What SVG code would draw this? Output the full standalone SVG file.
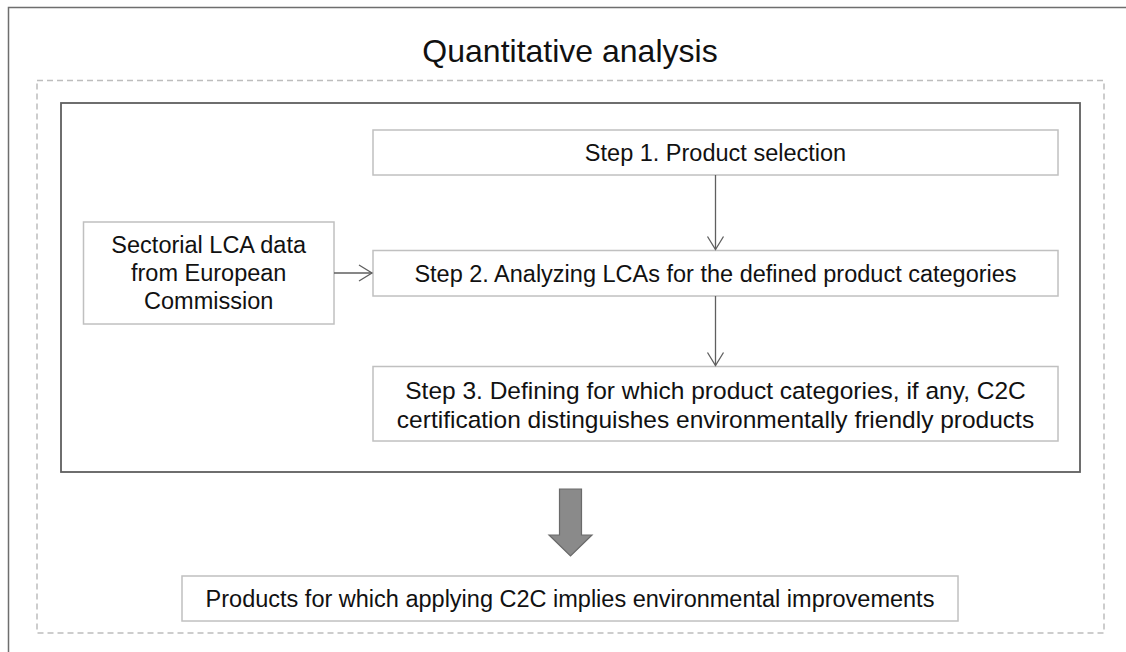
<svg xmlns="http://www.w3.org/2000/svg" width="1126" height="652" viewBox="0 0 1126 652">
<defs>
<style>
.frame{fill:none;stroke:#6e6e6e;stroke-width:1.5}
.dash{fill:none;stroke:#bdbdbd;stroke-width:1.5;stroke-dasharray:6 4}
.inner{fill:none;stroke:#5f5f5f;stroke-width:1.8}
.box{fill:#ffffff;stroke:#c0c0c0;stroke-width:1.5}
.t{font-family:"Liberation Sans",Arial,sans-serif;font-size:23.5px;fill:#111;text-anchor:middle;dominant-baseline:central}
.t3{font-size:24.5px}
.title{font-family:"Liberation Sans",Arial,sans-serif;font-size:32px;fill:#111;text-anchor:middle}
.conn{fill:none;stroke:#5f5f5f;stroke-width:1.3}
</style>
<marker id="chev" markerWidth="16" markerHeight="20" refX="14" refY="10" orient="auto" markerUnits="userSpaceOnUse">
<path d="M1,2 L14,10 L1,18" fill="none" stroke="#5f5f5f" stroke-width="1.3"/>
</marker>
</defs>
<rect width="1126" height="652" fill="#ffffff"/>
<path class="frame" d="M8.5,652 L8.5,7.5 L1126,7.5"/>
<text class="title" x="570" y="62">Quantitative analysis</text>
<rect id="dashed-region" class="dash" x="37" y="80.5" width="1067" height="552.5"/>
<rect id="analysis-box" class="inner" x="61" y="103" width="1019" height="369"/>
<g id="step1">
<rect class="box" x="373" y="130" width="685" height="45"/>
<text class="t" x="715.5" y="152.5">Step 1. Product selection</text>
</g>
<g id="step2">
<rect class="box" x="373" y="250.5" width="685" height="45.5"/>
<text class="t" x="715.5" y="273.5">Step 2. Analyzing LCAs for the defined product categories</text>
</g>
<g id="step3">
<rect class="box" x="373" y="366.5" width="685" height="74.5"/>
<text class="t t3" x="715.5" y="390.5">Step 3. Defining for which product categories, if any, C2C</text>
<text class="t t3" x="715.5" y="419">certification distinguishes  environmentally friendly products</text>
</g>
<g id="sectorial">
<rect class="box" x="83.5" y="222" width="250.5" height="102"/>
<text class="t" x="208.7" y="245">Sectorial LCA data</text>
<text class="t" x="208.7" y="273">from European</text>
<text class="t" x="208.7" y="301">Commission</text>
</g>
<g id="result">
<rect class="box" x="182" y="576" width="776" height="45"/>
<text class="t" x="570" y="598.5">Products for which applying C2C implies environmental improvements</text>
</g>
<g id="connectors">
<line class="conn" x1="715.5" y1="175" x2="715.5" y2="249.5" marker-end="url(#chev)"/>
<line class="conn" x1="715.5" y1="296" x2="715.5" y2="365.5" marker-end="url(#chev)"/>
<line class="conn" x1="334" y1="273" x2="372" y2="273" marker-end="url(#chev)"/>
<path d="M559.5,489 L581.5,489 L581.5,535 L592,535 L570.5,556 L549,535 L559.5,535 Z" fill="#8a8a8a" stroke="#6a6a6a" stroke-width="1.2"/>
</g>
</svg>
